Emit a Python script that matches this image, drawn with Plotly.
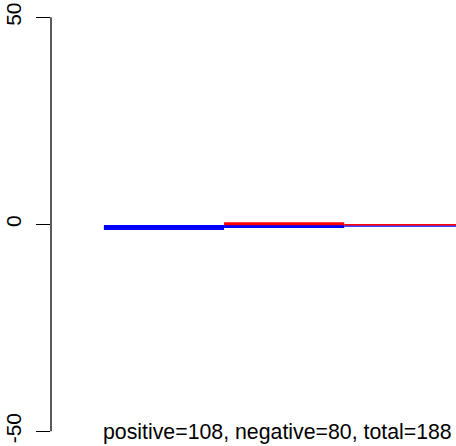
import plotly.graph_objects as go

# segments: start, end, value, colour, width
seg_start = [0, 1, 1, 2, 2]
seg_end = [1, 2, 2, 3.2, 3.2]
seg_value = [-0.75, 0.15, -0.55, -0.1, -0.4]
seg_color = ["#0000FF", "#FF0000", "#0000FF", "#FF0000", "#0000FF"]
seg_width = [5, 3, 3, 1.5, 1.5]
draw_order = [0, 2, 1, 4, 3]

y_ticks = [-50, 0, 50]
y_tick_labels = ["-50", "0", "50"]
label_text = "positive=108, negative=80, total=188"

fig = go.Figure()
for i in draw_order:
    fig.add_trace(go.Scatter(
        x=[seg_start[i], seg_end[i]], y=[seg_value[i], seg_value[i]],
        mode="lines", line=dict(color=seg_color[i], width=seg_width[i]),
        hoverinfo="skip", showlegend=False))

fig.add_shape(type="line", xref="paper", yref="y", x0=0, x1=0, y0=-50, y1=50,
              line=dict(color="black", width=1.3))

fig.add_annotation(x=1.445, y=-50.2, xref="x", yref="y", text=label_text,
                   showarrow=False, font=dict(size=21.3, color="black", family="Liberation Sans, Arial"),
                   xanchor="center", yanchor="middle")

fig.update_layout(
    width=456, height=446,
    margin=dict(l=51, r=0, t=0, b=0),
    plot_bgcolor="white", paper_bgcolor="white",
    xaxis=dict(range=[-0.44, 2.93], visible=False),
    yaxis=dict(range=[-53.55, 54.18], tickvals=y_ticks, ticktext=y_tick_labels,
               ticks="outside", ticklen=14, tickwidth=1.3, tickcolor="black",
               tickangle=-90, showgrid=False, zeroline=False, showline=False,
               tickfont=dict(size=21, color="black", family="Liberation Sans, Arial"),
               ticklabelstandoff=7),
)
fig.write_html("out.html", config={"displayModeBar": False},
               post_script="document.body.style.margin='0';document.body.style.padding='0';document.body.style.overflow='hidden';")
